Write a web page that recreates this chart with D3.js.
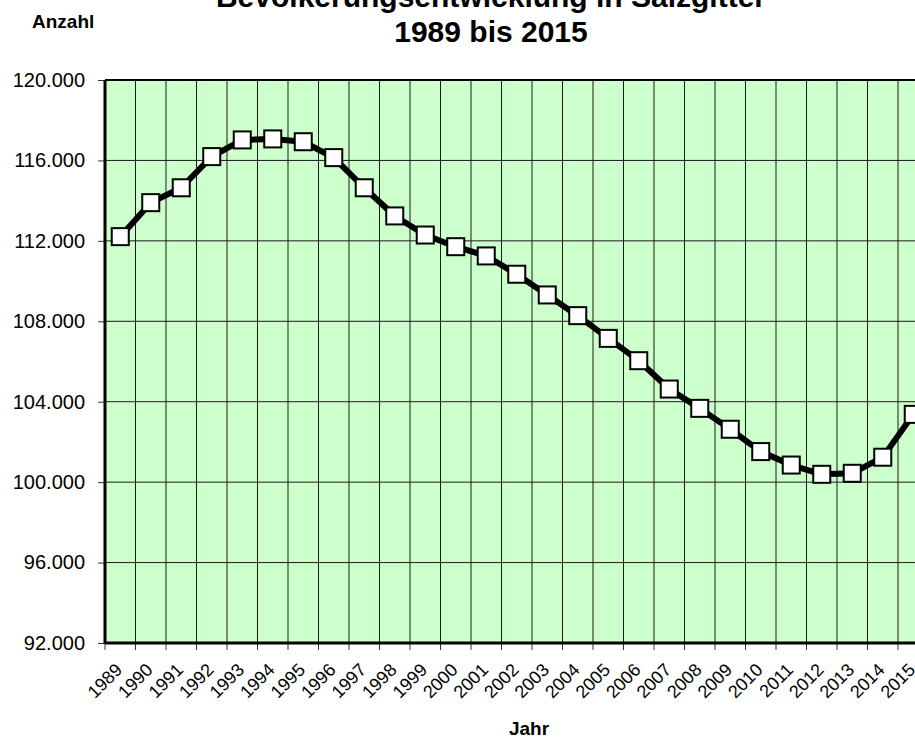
<!DOCTYPE html>
<html>
<head>
<meta charset="utf-8">
<script src="https://cdn.jsdelivr.net/npm/d3@7"></script>
<style>
  body { margin: 0; background: #fff; }
  svg { display: block; font-family: Arial, "Liberation Sans", sans-serif; }
</style>
</head>
<body>
<div class="chart"></div>
<script>
// Data: Einwohner Salzgitter
var years = ["1989", "1990", "1991", "1992", "1993", "1994", "1995", "1996", "1997",
  "1998", "1999", "2000", "2001", "2002", "2003", "2004", "2005", "2006", "2007",
  "2008", "2009", "2010", "2011", "2012", "2013", "2014", "2015"];
var population = [112210, 113900, 114640, 116190, 117020, 117070, 116930, 116140, 114640,
  113240, 112290, 111710, 111250, 110340, 109310, 108280, 107150, 106040, 104630,
  103670, 102630, 101520, 100850, 100390, 100440, 101240, 103370];
var yTicks = [92000, 96000, 100000, 104000, 108000, 112000, 116000, 120000];

// Parameters
var width = 915,
  height = 740,
  margin = { top: 80, left: 105, bottom: 97 },
  step = 30.5,
  plotW = step * years.length,
  plotH = height - margin.top - margin.bottom,
  fmt = d3.format(",.0f");

var svg = d3.select(".chart").append("svg")
  .attr("width", width)
  .attr("height", height);

var x = d3.scaleBand()
  .domain(years)
  .range([margin.left, margin.left + plotW]);

var y = d3.scaleLinear()
  .domain([92000, 120000])
  .range([margin.top + plotH, margin.top]);

// German number format: 120.000
function yLabel(d) {
  return fmt(d).replace(/,/g, ".");
}

// Plot background
svg.append("rect")
  .attr("x", margin.left)
  .attr("y", margin.top)
  .attr("width", plotW)
  .attr("height", plotH)
  .style("fill", "#ccffcc");

// Grid lines
var grid = svg.append("g").style("stroke", "#1a1a1a").style("stroke-width", 1);
grid.selectAll(".vgrid")
  .data(years.slice(1))
  .enter().append("line")
    .attr("x1", function(d) { return x(d); })
    .attr("x2", function(d) { return x(d); })
    .attr("y1", margin.top)
    .attr("y2", margin.top + plotH);
grid.selectAll(".hgrid")
  .data(yTicks.slice(1, -1))
  .enter().append("line")
    .attr("x1", margin.left)
    .attr("x2", margin.left + plotW)
    .attr("y1", function(d) { return y(d); })
    .attr("y2", function(d) { return y(d); });

// Y axis
var yAxis = svg.append("g")
  .attr("transform", "translate(" + margin.left + ",0)")
  .call(d3.axisLeft(y).tickValues(yTicks).tickFormat(yLabel).tickSize(7).tickPadding(13));
yAxis.select(".domain").remove();
yAxis.selectAll("line").style("stroke", "#333");
yAxis.selectAll("text")
  .style("font-size", "20px")
  .style("fill", "#000");

// X axis: ticks on band boundaries, labels turned 45 degrees
var xTicks = svg.append("g");
xTicks.selectAll("line")
  .data(years)
  .enter().append("line")
    .attr("x1", function(d) { return x(d); })
    .attr("x2", function(d) { return x(d); })
    .attr("y1", margin.top + plotH)
    .attr("y2", margin.top + plotH + 7)
    .style("stroke", "#333");
xTicks.selectAll("text")
  .data(years)
  .enter().append("text")
    .attr("transform", function(d) {
      return "translate(" + (x(d) + x.bandwidth() / 2 + 3) + "," + (margin.top + plotH + 28) + ") rotate(-45)";
    })
    .attr("text-anchor", "end")
    .style("font-size", "18px")
    .text(function(d) { return d; });

// Frame
svg.append("line")
  .attr("x1", margin.left).attr("x2", margin.left + plotW)
  .attr("y1", margin.top).attr("y2", margin.top)
  .style("stroke", "#000").style("stroke-width", 2);
svg.append("line")
  .attr("x1", margin.left).attr("x2", margin.left)
  .attr("y1", margin.top).attr("y2", margin.top + plotH + 1)
  .style("stroke", "#000").style("stroke-width", 3);
svg.append("line")
  .attr("x1", margin.left).attr("x2", margin.left + plotW)
  .attr("y1", margin.top + plotH).attr("y2", margin.top + plotH)
  .style("stroke", "#000").style("stroke-width", 3);

// Line
var line = d3.line()
  .x(function(d, i) { return x(years[i]) + x.bandwidth() / 2; })
  .y(function(d) { return y(d); });

svg.append("path")
  .datum(population)
  .attr("d", line)
  .style("fill", "none")
  .style("stroke", "#000")
  .style("stroke-width", 6)
  .style("stroke-linejoin", "round");

// Markers
var size = 17;
svg.selectAll(".marker")
  .data(population)
  .enter().append("rect")
    .attr("class", "marker")
    .attr("x", function(d, i) { return x(years[i]) + x.bandwidth() / 2 - size / 2; })
    .attr("y", function(d) { return y(d) - size / 2; })
    .attr("width", size)
    .attr("height", size)
    .style("fill", "#fff")
    .style("stroke", "#000")
    .style("stroke-width", 2);

// Titles
svg.append("text")
  .attr("x", 491).attr("y", 7)
  .attr("text-anchor", "middle")
  .style("font-size", "30px").style("font-weight", "bold")
  .text("Bevölkerungsentwicklung in Salzgitter");
svg.append("text")
  .attr("x", 491).attr("y", 42)
  .attr("text-anchor", "middle")
  .style("font-size", "30px").style("font-weight", "bold")
  .text("1989 bis 2015");
svg.append("text")
  .attr("x", 32).attr("y", 28)
  .style("font-size", "19px").style("font-weight", "bold")
  .text("Anzahl");
svg.append("text")
  .attr("x", 529).attr("y", 735)
  .attr("text-anchor", "middle")
  .style("font-size", "19px").style("font-weight", "bold")
  .text("Jahr");
</script>
</body>
</html>
